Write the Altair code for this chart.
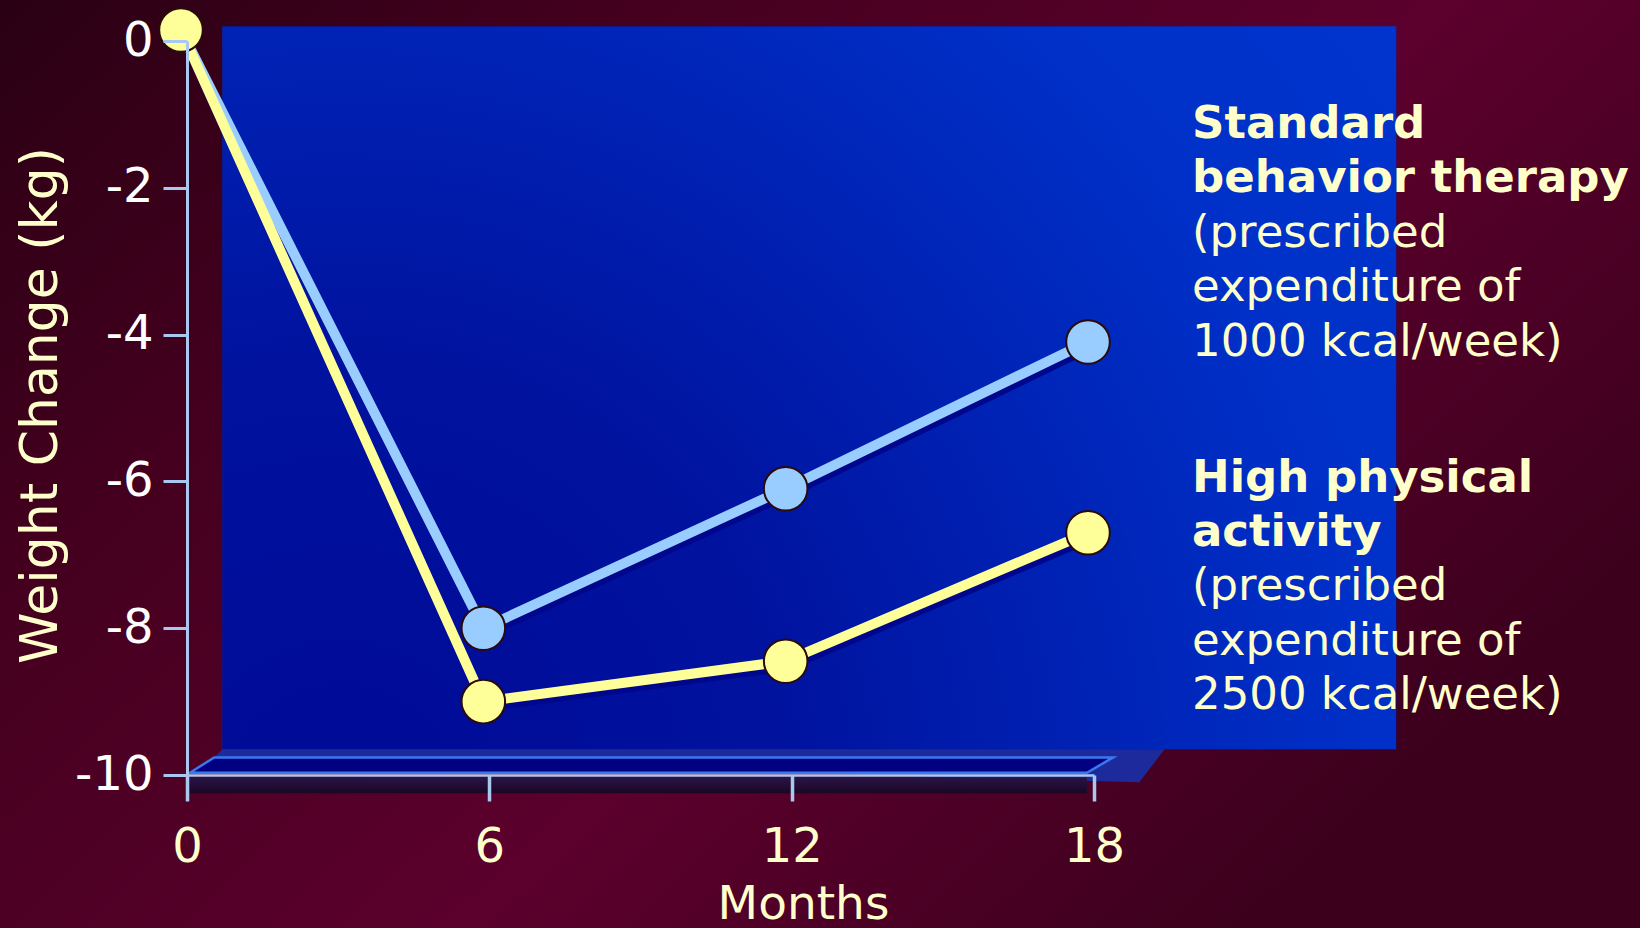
import altair as alt
import pandas as pd

# ---------------- data ----------------
MONTHS = [0, 6, 12, 18]
SBT = [0.15, -8.0, -6.1, -4.1]      # Standard behavior therapy
HPA = [0.15, -9.0, -8.45, -6.7]     # High physical activity
SERIES = ["Standard behavior therapy", "High physical activity"]
COLORS = ["#99ccff", "#ffff99"]
X_TICKS = [0, 6, 12, 18]
Y_TICKS = [0, -2, -4, -6, -8, -10]
LABEL1_HEAD = ["Standard", "behavior therapy"]
LABEL1_BODY = ["(prescribed", "expenditure of", "1000 kcal/week)"]
LABEL2_HEAD = ["High physical", "activity"]
LABEL2_BODY = ["(prescribed", "expenditure of", "2500 kcal/week)"]

# decorative 3D frame extents, in data units (months, kg)
WALL_X = [0.7, 24.0]
WALL_Y = [-9.65, 0.2]
FLOOR_X = [0.06, 0.54, 17.86, 18.38]
FLOOR_TOP = [-9.97, -9.76, -9.76, -9.76]
FLOOR_BOT = [-9.97, -9.97, -9.97, -9.76]
SIDE_X = [0.54, 0.7, 18.9, 19.4]
SIDE_TOP = [-9.76, -9.65, -9.65, -9.65]
SIDE_BOT = [-9.76, -9.76, -10.1, -9.65]
SHADOW_X = [0.06, 17.86]
SHADOW_Y = [-10.03, -10.25]

FONT = "DejaVu Sans"
CREAM = "#ffffcc"
AXIS_BLUE = "#a8c8f0"
X_TITLE = "Months"
Y_TITLE = "Weight Change (kg)"

W, H = 907, 734
PAD = {"left": 187, "top": 41, "right": 1640 - 187 - W, "bottom": 928 - 41 - H}

df = pd.DataFrame({
    "month": MONTHS * 2,
    "value": SBT + HPA,
    "series": [SERIES[0]] * 4 + [SERIES[1]] * 4,
    "order": [0] * 4 + [1] * 4,
})

XS = alt.Scale(domain=[0, 18], nice=False, zero=False)
YS = alt.Scale(domain=[-10, 0], nice=False, zero=False)
CS = alt.Scale(domain=SERIES, range=COLORS)

XAX = alt.Axis(values=X_TICKS, tickSize=26, tickWidth=3.5, tickColor=AXIS_BLUE,
               domainColor=AXIS_BLUE, domainWidth=2.5, grid=False,
               labelColor=CREAM, labelFont=FONT, labelFontSize=48,
               labelBaseline="alphabetic", labelPadding=60, labelFlush=False,
               titleColor=CREAM, titleFont=FONT, titleFontSize=47,
               titleFontWeight="normal", titleX=616, titleY=143,
               titleBaseline="alphabetic", titleAlign="center", zindex=1)
YAX = alt.Axis(values=Y_TICKS, tickSize=24, tickWidth=3, tickColor=AXIS_BLUE,
               domainColor=AXIS_BLUE, domainWidth=3, grid=False,
               labelColor="#ffffff", labelFont=FONT, labelFontSize=48,
               labelPadding=10, labelExpr="'' + datum.value", labelFlush=False,
               titleColor=CREAM, titleFont=FONT, titleFontSize=52,
               titleFontWeight="normal", titleX=-147, titleY=364,
               titleBaseline="middle", titleAlign="center", titleAngle=-90,
               zindex=1)


def X(field):
    return alt.X(field, scale=XS, axis=XAX, title=X_TITLE)


def Y(field):
    return alt.Y(field, scale=YS, axis=YAX, title=Y_TITLE)


# ---------------- background ----------------
bg = alt.Chart(pd.DataFrame({"a": [0]})).mark_rect(
    fill=alt.LinearGradient(
        gradient="linear", x1=0, y1=0, x2=1, y2=0.6,
        stops=[alt.GradientStop(color="#2a0014", offset=0),
               alt.GradientStop(color="#45001f", offset=0.3),
               alt.GradientStop(color="#5c002d", offset=0.65),
               alt.GradientStop(color="#3c001d", offset=1)]),
).encode(x=alt.value(-PAD["left"]), x2=alt.value(1640 - PAD["left"]),
         y=alt.value(-PAD["top"]), y2=alt.value(928 - PAD["top"]))

wall = alt.Chart(pd.DataFrame({"x": [WALL_X[0]], "x2": [WALL_X[1]],
                               "y": [WALL_Y[0]], "y2": [WALL_Y[1]]})).mark_rect(
    fill=alt.RadialGradient(
        gradient="radial", x1=0.1, y1=0.85, r1=0, x2=0.1, y2=0.85, r2=1.1,
        stops=[alt.GradientStop(color="#000a96", offset=0),
               alt.GradientStop(color="#00139f", offset=0.35),
               alt.GradientStop(color="#0030c8", offset=0.8),
               alt.GradientStop(color="#0034cc", offset=1)]),
).encode(x=X("x:Q"), x2="x2:Q", y=Y("y:Q"), y2="y2:Q")

side = alt.Chart(pd.DataFrame({"x": SIDE_X, "top": SIDE_TOP, "bot": SIDE_BOT})).mark_area(
    color="#1c2a9c", interpolate="linear",
).encode(x=X("x:Q"), y=Y("top:Q"), y2="bot:Q")

shadow = alt.Chart(pd.DataFrame({"x": [SHADOW_X[0]], "x2": [SHADOW_X[1]],
                                 "y": [SHADOW_Y[0]], "y2": [SHADOW_Y[1]]})).mark_rect(
    fill=alt.LinearGradient(
        gradient="linear", x1=0, y1=0, x2=0, y2=1,
        stops=[alt.GradientStop(color="#2a1446", offset=0),
               alt.GradientStop(color="#1a0624", offset=1)]),
).encode(x=X("x:Q"), x2="x2:Q", y=Y("y:Q"), y2="y2:Q")

floor = alt.Chart(pd.DataFrame({"x": FLOOR_X, "top": FLOOR_TOP, "bot": FLOOR_BOT})).mark_area(
    color="#000080", stroke="#3a78f0", strokeWidth=2.5, interpolate="linear",
).encode(x=X("x:Q"), y=Y("top:Q"), y2="bot:Q")

# ---------------- data marks ----------------
base = alt.Chart(df)

line_shadow = base.mark_line(strokeWidth=10, color="#00078c", xOffset=-4, yOffset=5).encode(
    x=X("month:Q"), y=Y("value:Q"), detail="series:N",
)

lines = base.mark_line(strokeWidth=10, xOffset=-6).encode(
    x=X("month:Q"), y=Y("value:Q"),
    color=alt.Color("series:N", scale=CS, legend=None),
    order="order:Q",
    detail="series:N",
)

points = base.mark_point(filled=True, size=1900, shape="circle", stroke="#2a0a0a",
                         strokeWidth=2, opacity=1, xOffset=-6).encode(
    x=X("month:Q"), y=Y("value:Q"),
    fill=alt.Fill("series:N", scale=CS, legend=None),
)

# ---------------- annotations ----------------
TX = 1192 - PAD["left"]
LH = 54.4


def block(lines_, y, bold):
    return alt.Chart(pd.DataFrame({"a": [0]})).mark_text(
        align="left", baseline="alphabetic", font=FONT, fontSize=45,
        fontWeight="bold" if bold else "normal", color=CREAM, lineHeight=LH,
    ).encode(x=alt.value(TX), y=alt.value(y), text=alt.value(lines_))


t1 = block(LABEL1_HEAD, 138 - PAD["top"], True)
t2 = block(LABEL1_BODY, 138 + 2 * LH - PAD["top"], False)
t3 = block(LABEL2_HEAD, 491.6 - PAD["top"], True)
t4 = block(LABEL2_BODY, 491.6 + 2 * LH - PAD["top"], False)

chart = alt.layer(bg, wall, side, shadow, floor, line_shadow, lines, points,
                  t1, t2, t3, t4).properties(
    width=W, height=H, padding=PAD,
    autosize=alt.AutoSizeParams(type="none"),
    background="#3a001d",
).configure_view(stroke=None)

chart.save("out.html", embed_options={"renderer": "svg", "actions": False})
